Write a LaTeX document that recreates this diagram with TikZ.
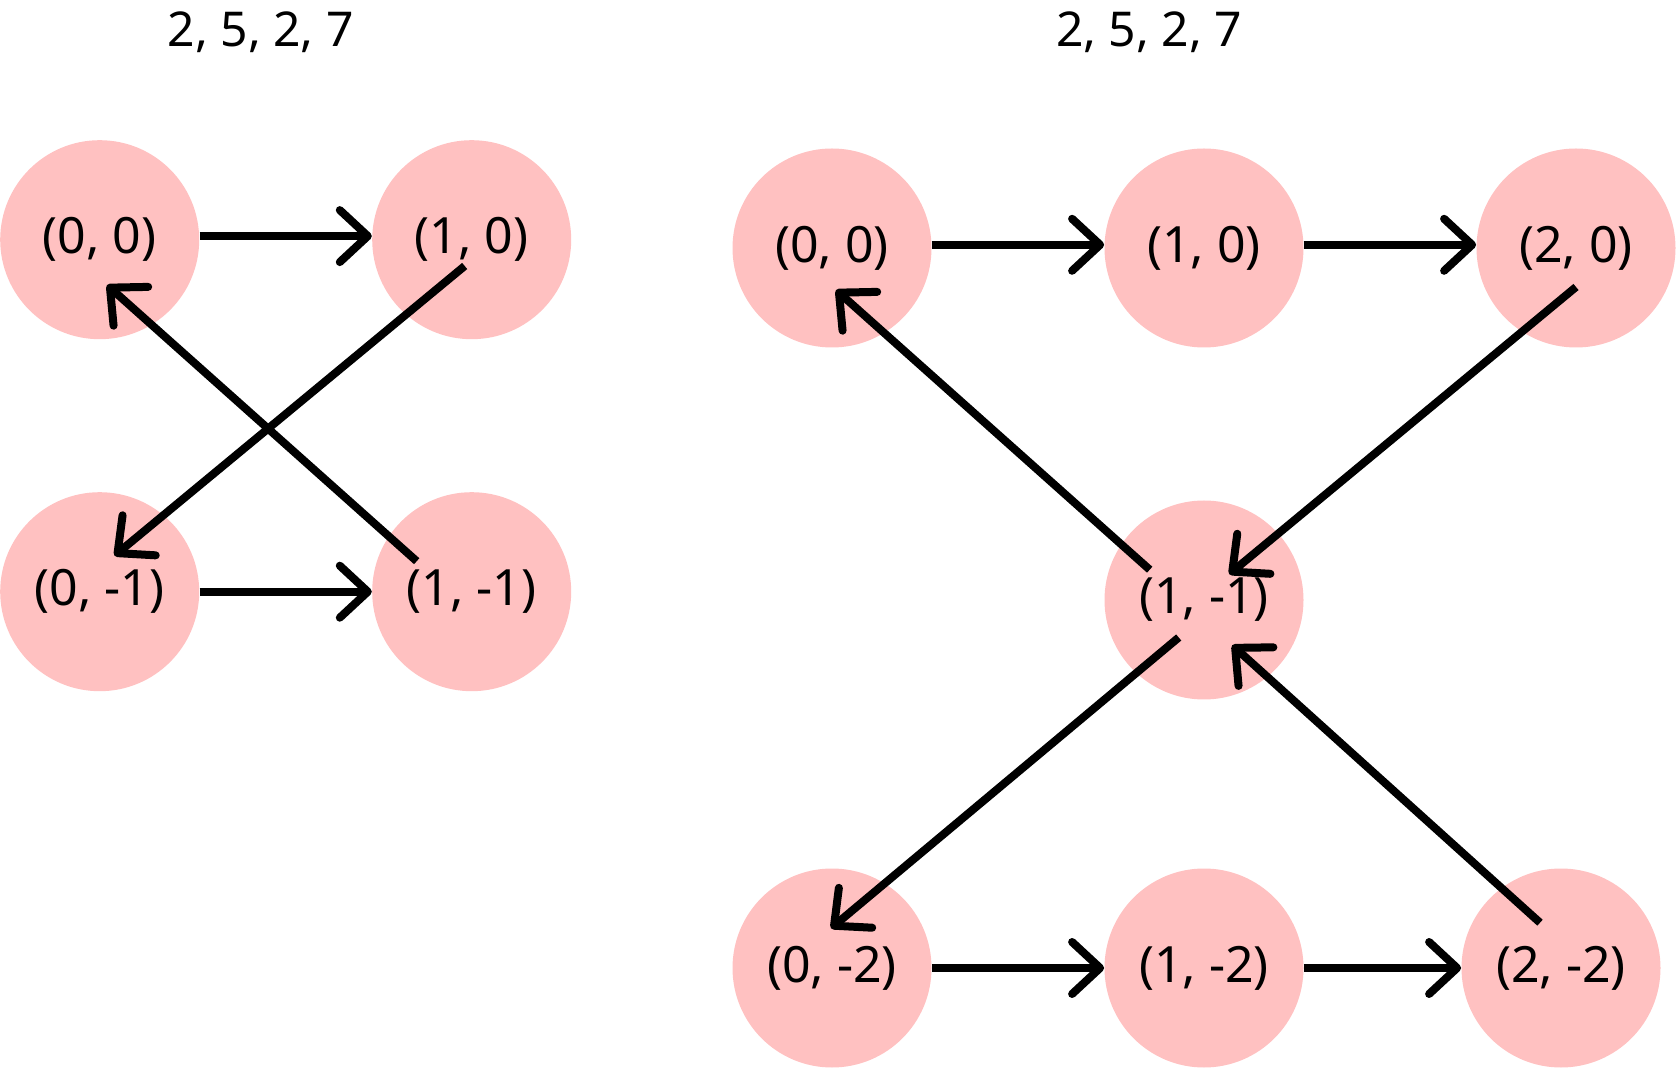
\documentclass[tikz,border=0pt]{standalone}
\usepackage{fontspec}
\setmainfont{Noto Sans}
\usepackage{xcolor}
\usepackage{tikz}
\usetikzlibrary{positioning, arrows.meta, calc}
\definecolor{cellpink}{HTML}{FFC1C1}
\definecolor{ink}{HTML}{000000}

\begin{document}
\begin{tikzpicture}[
  node distance=176pt and 186pt, on grid,
  cell/.style={
    circle, fill=cellpink, draw=none, inner sep=0pt,
    minimum size=99.5pt, font=\fontsize{25pt}{29pt}\selectfont
  },
  seqlabel/.style={font=\fontsize{24pt}{28pt}\selectfont, text=ink},
  arrow/.style={-{Straight Barb[length=14pt, width=26pt, round]},
    line width=4pt, color=ink},
]
\useasboundingbox[fill=white] (0,0) rectangle (838pt,-534pt);

% --- Left grid ---
\node[seqlabel] (ltitle) at (130.4pt,-16pt) {2, 5, 2, 7};
\node[cell] (l00) at (49.85pt,-119.85pt) {(0, 0)};
\node[cell, right=of l00] (l10) {(1, 0)};
\node[cell, below=of l00] (l01) {(0, -1)};
\node[cell, right=of l01] (l11) {(1, -1)};

% --- Right grid ---
\node[seqlabel] (rtitle) at (574.5pt,-16pt) {2, 5, 2, 7};
\node[cell] (r00) at (416pt,-124pt) {(0, 0)};
\node[cell, right=of r00] (r10) {(1, 0)};
\node[cell, right=of r10] (r20) {(2, 0)};
\node[cell, below=of r10] (r11) {(1, -1)};
\node[cell, below=184pt of r11] (r12) {(1, -2)};
\node[cell, left=of r12] (r02) {(0, -2)};
\node[cell, right=178.5pt of r12] (r22) {(2, -2)};

% --- Arrows, left ---
\draw[arrow] ([yshift=1.8pt]l00.east) -- ([yshift=1.8pt]l10.west);
\draw[arrow] (l01.east) -- (l11.west);
\draw[arrow] ($(l10.center)+(-3.5pt,-13.15pt)$) -- ($(l01.center)+(7.4pt,18pt)$);
\draw[arrow] ($(l11.center)+(-27.5pt,15.25pt)$) -- ($(l00.center)+(3.65pt,-22.65pt)$);

% --- Arrows, right ---
\draw[arrow] ([yshift=1.6pt]r00.east) -- ([yshift=1.6pt]r10.west);
\draw[arrow] ([yshift=1.6pt]r10.east) -- ([yshift=1.6pt]r20.west);
\draw[arrow] (r02.east) -- (r12.west);
\draw[arrow] (r12.east) -- (r22.west);
\draw[arrow] ($(r11.center)+(-27.15pt,15.15pt)$) -- ($(r00.center)+(2pt,-21pt)$);
\draw[arrow] ($(r20.center)+(0pt,-19.5pt)$) -- ($(r11.center)+(12.6pt,12.9pt)$);
\draw[arrow] ($(r11.center)+(-12.65pt,-18.75pt)$) -- ($(r02.center)+(-0.5pt,19.85pt)$);
\draw[arrow] ($(r22.center)+(-10.5pt,22.65pt)$) -- ($(r11.center)+(14.1pt,-22.6pt)$);

\end{tikzpicture}
\end{document}
